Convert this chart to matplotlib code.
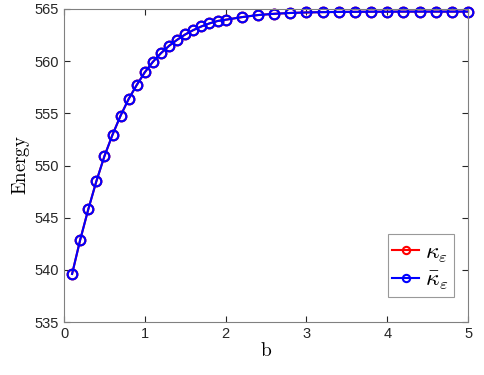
import matplotlib.pyplot as plt

plt.rcParams['mathtext.fontset'] = 'cm'

b = [0.1, 0.2, 0.3, 0.4, 0.5, 0.6, 0.7, 0.8, 0.9, 1.0,
     1.1, 1.2, 1.3, 1.4, 1.5, 1.6, 1.7, 1.8, 1.9, 2.0,
     2.2, 2.4, 2.6, 2.8, 3.0, 3.2, 3.4, 3.6, 3.8, 4.0,
     4.2, 4.4, 4.6, 4.8, 5.0]
energy = [539.62, 542.88, 545.80, 548.49, 550.90, 552.95, 554.78, 556.38, 557.72, 558.94,
          559.94, 560.77, 561.47, 562.05, 562.56, 562.98, 563.33, 563.62, 563.85, 563.97,
          564.22, 564.42, 564.54, 564.62, 564.67, 564.70, 564.72, 564.73, 564.74, 564.74,
          564.75, 564.75, 564.75, 564.75, 564.75]
energy_bar = list(energy)


def main():
    fig = plt.figure(figsize=(4.85, 3.75), dpi=100)
    ax = fig.add_axes([0.132, 0.141, 0.833, 0.835])

    ax.plot(b, energy, '-o', color='red', lw=1.5, ms=7, mew=1.5,
            mfc='none', clip_on=False, label=r'$\kappa_\varepsilon$')
    ax.plot(b, energy_bar, '-o', color='blue', lw=1.5, ms=7, mew=1.5,
            mfc='none', clip_on=False, label=r'$\bar{\kappa}_\varepsilon$')

    ax.set_xlim(0, 5)
    ax.set_ylim(535, 565)
    ax.set_xticks([0, 1, 2, 3, 4, 5])
    ax.set_yticks([535, 540, 545, 550, 555, 560, 565])
    ax.tick_params(direction='in', length=4, colors='#262626', labelsize=10.5,
                   top=True, right=True)
    for lbl in ax.get_xticklabels() + ax.get_yticklabels():
        lbl.set_family('Liberation Sans')
    for s in ax.spines.values():
        s.set_color('#808080')
        s.set_linewidth(0.8)

    ax.set_xlabel(r'$\mathrm{b}$', fontsize=14, labelpad=0)
    ax.set_ylabel(r'$\mathrm{Energy}$', fontsize=13.5, labelpad=2)

    leg = ax.legend(loc='lower right', bbox_to_anchor=(0.965, 0.08),
                    borderaxespad=0, fontsize=17, fancybox=False,
                    edgecolor='#808080', handlelength=1.15, markerscale=0.75,
                    handletextpad=0.25, borderpad=0.2, labelspacing=0.15)
    leg.get_frame().set_linewidth(0.8)

    fig.savefig('out.png', dpi=100)


if __name__ == '__main__':
    main()
